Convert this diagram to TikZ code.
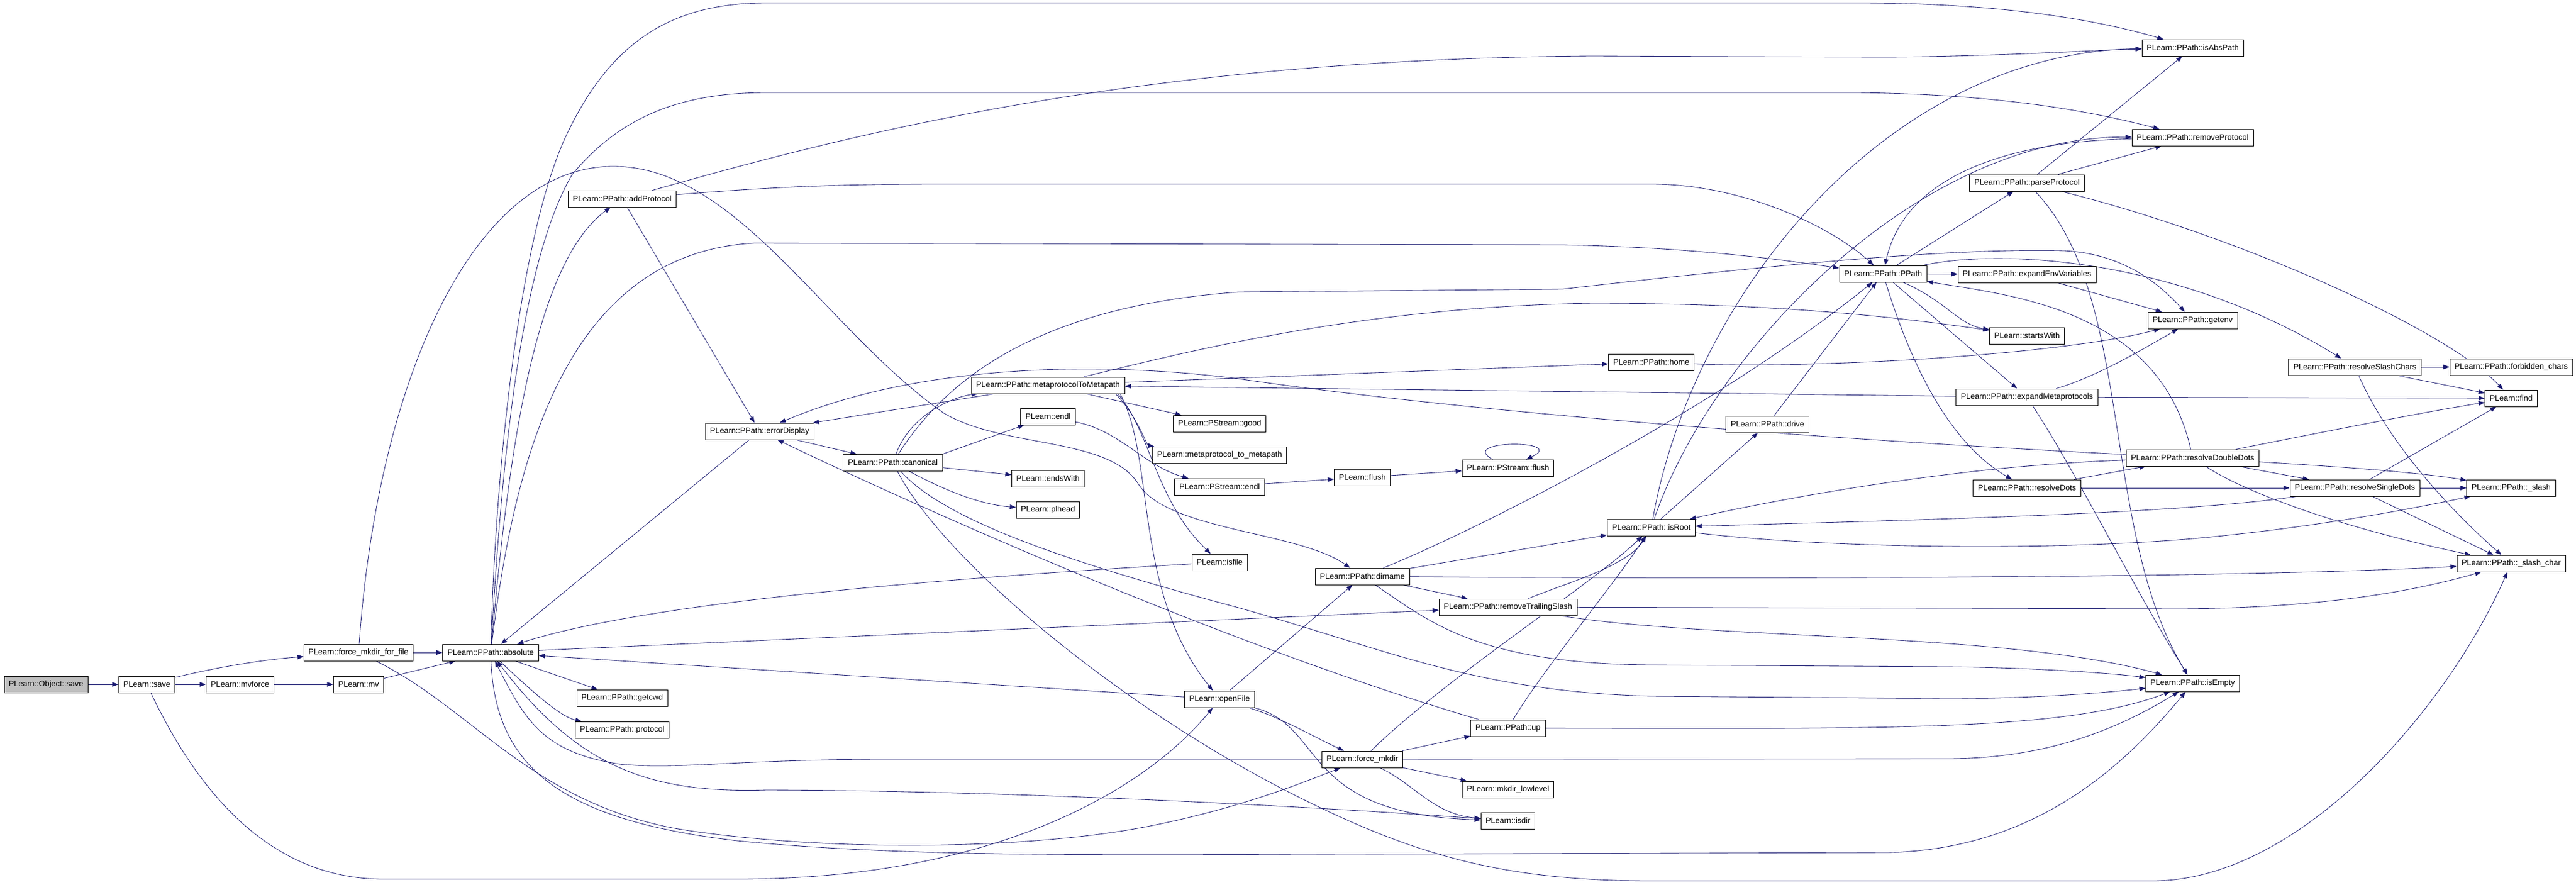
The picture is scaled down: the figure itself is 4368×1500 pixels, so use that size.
\documentclass[tikz,border=0pt]{standalone}
\usepackage{fontspec}
\setmainfont{Liberation Sans}
\usepackage{tikz}
\usetikzlibrary{arrows.meta,backgrounds}
\definecolor{edgeblue}{RGB}{25,25,112}
\definecolor{rootgray}{RGB}{191,191,191}
\tikzstyle{func}=[rectangle, draw=black, fill=white, line width=0.6pt, minimum height=7mm, inner xsep=2mm, inner ysep=0pt, font=\fontsize{9.6}{11}\selectfont]
\tikzstyle{root}=[func, fill=rootgray]
\tikzstyle{call}=[-{Triangle[length=2.6mm,width=1.9mm]}, draw=edgeblue, line width=0.6pt]
\pgfdeclarelayer{bglayer}
\pgfdeclarelayer{edgelayer}
\pgfdeclarelayer{nodelayer}
\pgfsetlayers{bglayer,edgelayer,nodelayer,main}

\begin{document}
\begin{tikzpicture}[x=0.25mm, y=0.25mm]
            \useasboundingbox (0,0) rectangle (4368,-1500);
            \begin{pgfonlayer}{bglayer}
                \fill [white] (0,0) rectangle (4368,-1500);
            \end{pgfonlayer}
            \begin{pgfonlayer}{nodelayer}
                \node [style=root] (osave) at (78,-1160) {PLearn::Object::save};
                \node [style=func] (save) at (249,-1160) {PLearn::save};
                \node [style=func] (mvforce) at (407,-1160) {PLearn::mvforce};
                \node [style=func] (ffile) at (608,-1106) {PLearn::force\_mkdir\_for\_file};
                \node [style=func] (mv) at (608,-1160) {PLearn::mv};
                \node [style=func] (absolute) at (832,-1106) {PLearn::PPath::absolute};
                \node [style=func] (addProtocol) at (1055,-337) {PLearn::PPath::addProtocol};
                \node [style=func] (getcwd) at (1055,-1183) {PLearn::PPath::getcwd};
                \node [style=func] (protocol) at (1055,-1237) {PLearn::PPath::protocol};
                \node [style=func] (errorDisplay) at (1288,-731) {PLearn::PPath::errorDisplay};
                \node [style=func] (canonical) at (1514,-784) {PLearn::PPath::canonical};
                \node [style=func] (mtm) at (1777,-653) {PLearn::PPath::metaprotocolToMetapath};
                \node [style=func] (endl) at (1777,-706) {PLearn::endl};
                \node [style=func] (endsWith) at (1777,-811) {PLearn::endsWith};
                \node [style=func] (plhead) at (1777,-864) {PLearn::plhead};
                \node [style=func] (good) at (2068,-718) {PLearn::PStream::good};
                \node [style=func] (mtmlow) at (2068,-771) {PLearn::metaprotocol\_to\_metapath};
                \node [style=func] (psendl) at (2068,-825) {PLearn::PStream::endl};
                \node [style=func] (isfile) at (2068,-953) {PLearn::isfile};
                \node [style=func] (openFile) at (2068,-1185) {PLearn::openFile};
                \node [style=func] (flush) at (2310,-809) {PLearn::flush};
                \node [style=func] (dirname) at (2310,-977) {PLearn::PPath::dirname};
                \node [style=func] (forcemkdir) at (2310,-1287) {PLearn::force\_mkdir};
                \node [style=func] (psflush) at (2557,-793) {PLearn::PStream::flush};
                \node [style=func] (rmslash) at (2557,-1029) {PLearn::PPath::removeTrailingSlash};
                \node [style=func] (up) at (2557,-1234) {PLearn::PPath::up};
                \node [style=func] (mkdirlow) at (2557,-1338) {PLearn::mkdir\_lowlevel};
                \node [style=func] (isdir) at (2557,-1391) {PLearn::isdir};
                \node [style=func] (home) at (2800,-614) {PLearn::PPath::home};
                \node [style=func] (isRoot) at (2800,-894) {PLearn::PPath::isRoot};
                \node [style=func] (drive) at (2997,-719) {PLearn::PPath::drive};
                \node [style=func] (ppath) at (3193,-464) {PLearn::PPath::PPath};
                \node [style=func] (parseProtocol) at (3437,-310) {PLearn::PPath::parseProtocol};
                \node [style=func] (expandEnv) at (3437,-465) {PLearn::PPath::expandEnvVariables};
                \node [style=func] (startsWith) at (3437,-569) {PLearn::startsWith};
                \node [style=func] (expandMeta) at (3437,-673) {PLearn::PPath::expandMetaprotocols};
                \node [style=func] (resolveDots) at (3437,-827) {PLearn::PPath::resolveDots};
                \node [style=func] (isAbsPath) at (3718,-81) {PLearn::PPath::isAbsPath};
                \node [style=func] (rmProtocol) at (3718,-233) {PLearn::PPath::removeProtocol};
                \node [style=func] (getenv) at (3718,-543) {PLearn::PPath::getenv};
                \node [style=func] (resolveDD) at (3718,-776) {PLearn::PPath::resolveDoubleDots};
                \node [style=func] (isEmpty) at (3718,-1158) {PLearn::PPath::isEmpty};
                \node [style=func] (resolveSlash) at (3993,-622) {PLearn::PPath::resolveSlashChars};
                \node [style=func] (resolveSD) at (3993,-827) {PLearn::PPath::resolveSingleDots};
                \node [style=func] (forbidden) at (4258,-622) {PLearn::PPath::forbidden\_chars};
                \node [style=func] (find) at (4258,-675) {PLearn::find};
                \node [style=func] (slash) at (4258,-827) {PLearn::PPath::\_slash};
                \node [style=func] (slashchar) at (4258,-955) {PLearn::PPath::\_slash\_char};
            \end{pgfonlayer}
            \begin{pgfonlayer}{edgelayer}
                \draw [style=call] (osave) -- (save);
                \draw [style=call] (save) .. controls (330,-1140) and (420,-1120) .. (ffile);
                \draw [style=call] (save) -- (mvforce);
                \draw [style=call] (save) .. controls (330,-1330) and (450,-1490) .. (650,-1490) -- (1250,-1490) .. controls (1700,-1490) and (1950,-1330) .. (openFile);
                \draw [style=call] (mvforce) -- (mv);
                \draw [style=call] (mv) -- (absolute);
                \draw [style=call] (ffile) -- (absolute);
                \draw [style=call] (ffile) .. controls (640,-650) and (800,-282) .. (1040,-282) .. controls (1250,-282) and (1400,-560) .. (1600,-700) .. controls (1700,-760) and (1880,-740) .. (1930,-820) .. controls (1980,-900) and (2200,-900) .. (dirname);
                \draw [style=call] (ffile) .. controls (800,-1200) and (900,-1360) .. (1150,-1405) .. controls (1400,-1445) and (1750,-1440) .. (1950,-1400) .. controls (2100,-1370) and (2200,-1330) .. (forcemkdir);

                \draw [style=call] (absolute) .. controls (840,-800) and (880,-400) .. (960,-230) .. controls (1040,-60) and (1150,-5) .. (1300,-5) -- (3150,-5) .. controls (3400,-5) and (3560,-35) .. (isAbsPath);
                \draw [style=call] (absolute) .. controls (850,-800) and (880,-450) .. (970,-296) .. controls (1050,-200) and (1150,-157) .. (1300,-157) -- (3150,-157) .. controls (3400,-160) and (3550,-190) .. (rmProtocol);
                \draw [style=call] (absolute) .. controls (860,-800) and (900,-450) .. (addProtocol);
                \draw [style=call] (absolute) .. controls (870,-800) and (950,-430) .. (1279,-412) -- (2650,-415) .. controls (2900,-420) and (3050,-445) .. (ppath);
                \draw [style=call] (absolute) -- (getcwd);
                \draw [style=call] (absolute) .. controls (900,-1170) and (950,-1215) .. (protocol);
                \draw [style=call] (absolute) -- (rmslash);
                \draw [style=call] (absolute) .. controls (840,-1300) and (950,-1390) .. (1250,-1425) .. controls (1500,-1450) and (1800,-1450) .. (2200,-1448) -- (3200,-1445) .. controls (3450,-1440) and (3600,-1300) .. (isEmpty);
                \draw [style=call] (errorDisplay) -- (absolute);
                \draw [style=call] (isfile) .. controls (1600,-980) and (1100,-1020) .. (absolute);
                \draw [style=call] (openFile) -- (absolute);
                \draw [style=call] (forcemkdir) -- (1500,-1287) .. controls (1250,-1287) and (1150,-1305) .. (1050,-1295) .. controls (920,-1275) and (890,-1220) .. (absolute);
                \draw [style=call] (isdir) .. controls (2200,-1365) and (1700,-1340) .. (1300,-1339) .. controls (1100,-1345) and (980,-1300) .. (absolute);

                \draw [style=call] (addProtocol) -- (errorDisplay);
                \draw [style=call] (addProtocol) .. controls (1300,-318) and (1400,-312) .. (1600,-312) -- (2800,-312) .. controls (2950,-312) and (3100,-380) .. (ppath);
                \draw [style=call] (addProtocol) .. controls (1400,-240) and (1900,-100) .. (2700,-95) -- (3200,-97) .. controls (3400,-95) and (3550,-85) .. (isAbsPath);
                \draw [style=call] (errorDisplay) -- (canonical);
                \draw [style=call] (mtm) -- (errorDisplay);

                \draw [style=call] (canonical) .. controls (1545,-700) and (1620,-672) .. (mtm);
                \draw [style=call] (canonical.north east) -- (endl);
                \draw [style=call] (canonical) -- (endsWith);
                \draw [style=call] (canonical) .. controls (1600,-830) and (1660,-855) .. (plhead);
                \draw [style=call] (canonical) .. controls (1600,-950) and (1900,-1200) .. (2200,-1350) .. controls (2400,-1450) and (2550,-1493) .. (2800,-1493) -- (3650,-1493) .. controls (3900,-1493) and (4150,-1200) .. (slashchar);
                \draw [style=call] (canonical) .. controls (1600,-650) and (1750,-520) .. (2100,-495) -- (2650,-490) .. controls (3000,-450) and (3300,-420) .. (3500,-425) .. controls (3600,-430) and (3660,-480) .. (getenv);
                \draw [style=call] (canonical) .. controls (1600,-880) and (1800,-950) .. (2100,-1030) .. controls (2350,-1100) and (2500,-1172) .. (2800,-1180) -- (3300,-1184) .. controls (3450,-1184) and (3560,-1175) .. (isEmpty);

                \draw [style=call] (mtm) -- (good);
                \draw [style=call] ([xshift=-4mm]mtm.south east) .. controls (1925,-700) and (1945,-755) .. (mtmlow);
                \draw [style=call] ([xshift=-3mm]mtm.south east) .. controls (1950,-730) and (1960,-850) .. (isfile);
                \draw [style=call] ([xshift=-2mm]mtm.south east) .. controls (1960,-780) and (1920,-1000) .. (openFile);
                \draw [style=call] (endl) .. controls (1900,-730) and (1940,-790) .. (psendl);
                \draw [style=call] (mtm) -- (home);
                \draw [style=call] (mtm) .. controls (2000,-600) and (2300,-520) .. (2700,-514) .. controls (3000,-514) and (3200,-535) .. (startsWith);
                \draw [style=call] (expandMeta) -- (mtm);
                \draw [style=call] (psendl) -- (flush);
                \draw [style=call] (flush) -- (psflush);
                \draw [style=call] (psflush) .. controls (2470,-745) and (2660,-745) .. (psflush);

                \draw [style=call] (resolveDD) .. controls (3100,-745) and (2500,-700) .. (2100,-642) .. controls (1850,-610) and (1550,-620) .. (errorDisplay);
                \draw [style=call] (up) .. controls (2100,-1100) and (1600,-880) .. (errorDisplay);

                \draw [style=call] (openFile) -- (dirname);
                \draw [style=call] (openFile) .. controls (2170,-1215) and (2230,-1250) .. (forcemkdir);
                \draw [style=call] (openFile) .. controls (2250,-1230) and (2200,-1380) .. (isdir);
                \draw [style=call] (dirname) -- (rmslash);
                \draw [style=call] (dirname) .. controls (2500,-900) and (2900,-700) .. (ppath);
                \draw [style=call] (dirname) -- (isRoot);
                \draw [style=call] (dirname) .. controls (2600,-979) and (3700,-985) .. (slashchar);
                \draw [style=call] (dirname) .. controls (2420,-1050) and (2500,-1125) .. (2800,-1127) -- (3300,-1130) .. controls (3450,-1132) and (3570,-1140) .. (isEmpty);
                \draw [style=call] (rmslash) .. controls (2650,-990) and (2760,-960) .. (isRoot);
                \draw [style=call] (rmslash) -- (3700,-1032) .. controls (3950,-1030) and (4100,-1000) .. (slashchar);
                \draw [style=call] (rmslash) .. controls (2900,-1085) and (3400,-1070) .. (isEmpty);
                \draw [style=call] (up) .. controls (2620,-1130) and (2730,-1000) .. (isRoot);
                \draw [style=call] (up) .. controls (3200,-1235) and (3500,-1240) .. (isEmpty);
                \draw [style=call] (forcemkdir) -- (up);
                \draw [style=call] (forcemkdir) -- (mkdirlow);
                \draw [style=call] (forcemkdir) .. controls (2400,-1330) and (2430,-1380) .. (isdir);
                \draw [style=call] (forcemkdir) .. controls (2450,-1150) and (2700,-990) .. (isRoot);
                \draw [style=call] (forcemkdir) -- (3300,-1286) .. controls (3480,-1286) and (3600,-1230) .. (isEmpty);

                \draw [style=call] (home) .. controls (3100,-625) and (3500,-600) .. (getenv);
                \draw [style=call] (isRoot) -- (drive);
                \draw [style=call] (isRoot) .. controls (2870,-500) and (3200,-90) .. (isAbsPath);
                \draw [style=call] (isRoot) .. controls (2900,-600) and (3250,-230) .. (rmProtocol);
                \draw [style=call] (isRoot) .. controls (3100,-930) and (3500,-935) .. (3750,-910) .. controls (3950,-890) and (4100,-860) .. (slash);
                \draw [style=call] (drive) -- (ppath);
                \draw [style=call] (rmProtocol) .. controls (3400,-240) and (3230,-300) .. (ppath);

                \draw [style=call] (ppath) -- (expandEnv);
                \draw [style=call] (ppath) .. controls (3300,-510) and (3320,-550) .. (startsWith);
                \draw [style=call] (ppath) -- (expandMeta);
                \draw [style=call] (ppath) .. controls (3250,-650) and (3320,-760) .. (resolveDots);
                \draw [style=call] (ppath) -- (parseProtocol);
                \draw [style=call] (ppath) .. controls (3400,-420) and (3700,-440) .. (resolveSlash);
                \draw [style=call] (parseProtocol) -- (isAbsPath);
                \draw [style=call] (parseProtocol) -- (rmProtocol);
                \draw [style=call] (parseProtocol) .. controls (3800,-400) and (4150,-560) .. (find);
                \draw [style=call] (parseProtocol) .. controls (3620,-500) and (3560,-900) .. (isEmpty);
                \draw [style=call] (expandEnv) -- (getenv);
                \draw [style=call] (expandMeta) .. controls (3550,-640) and (3620,-600) .. (getenv);
                \draw [style=call] (expandMeta) -- (find);
                \draw [style=call] (expandMeta) .. controls (3520,-800) and (3620,-1000) .. (isEmpty);
                \draw [style=call] (resolveDots) -- (resolveDD);
                \draw [style=call] (resolveDots) -- (resolveSD);

                \draw [style=call] (resolveDD) -- (resolveSD);
                \draw [style=call] (resolveDD) .. controls (3950,-790) and (4100,-800) .. (slash);
                \draw [style=call] (resolveDD) .. controls (3800,-830) and (3950,-890) .. (slashchar);
                \draw [style=call] (resolveDD) .. controls (3900,-740) and (4100,-700) .. (find);
                \draw [style=call] (resolveDD) .. controls (3300,-790) and (3000,-850) .. (isRoot);
                \draw [style=call] (resolveDD) .. controls (3660,-520) and (3400,-500) .. (ppath);
                \draw [style=call] (resolveSD) -- (slash);
                \draw [style=call] (resolveSD) -- (slashchar);
                \draw [style=call] (resolveSD) -- (find);
                \draw [style=call] (resolveSD) .. controls (3700,-870) and (3300,-880) .. (isRoot);
                \draw [style=call] (resolveSlash) -- (forbidden);
                \draw [style=call] (resolveSlash) -- (find);
                \draw [style=call] (resolveSlash) .. controls (4050,-750) and (4150,-860) .. (slashchar);
            \end{pgfonlayer}
        \end{tikzpicture}
\end{document}
